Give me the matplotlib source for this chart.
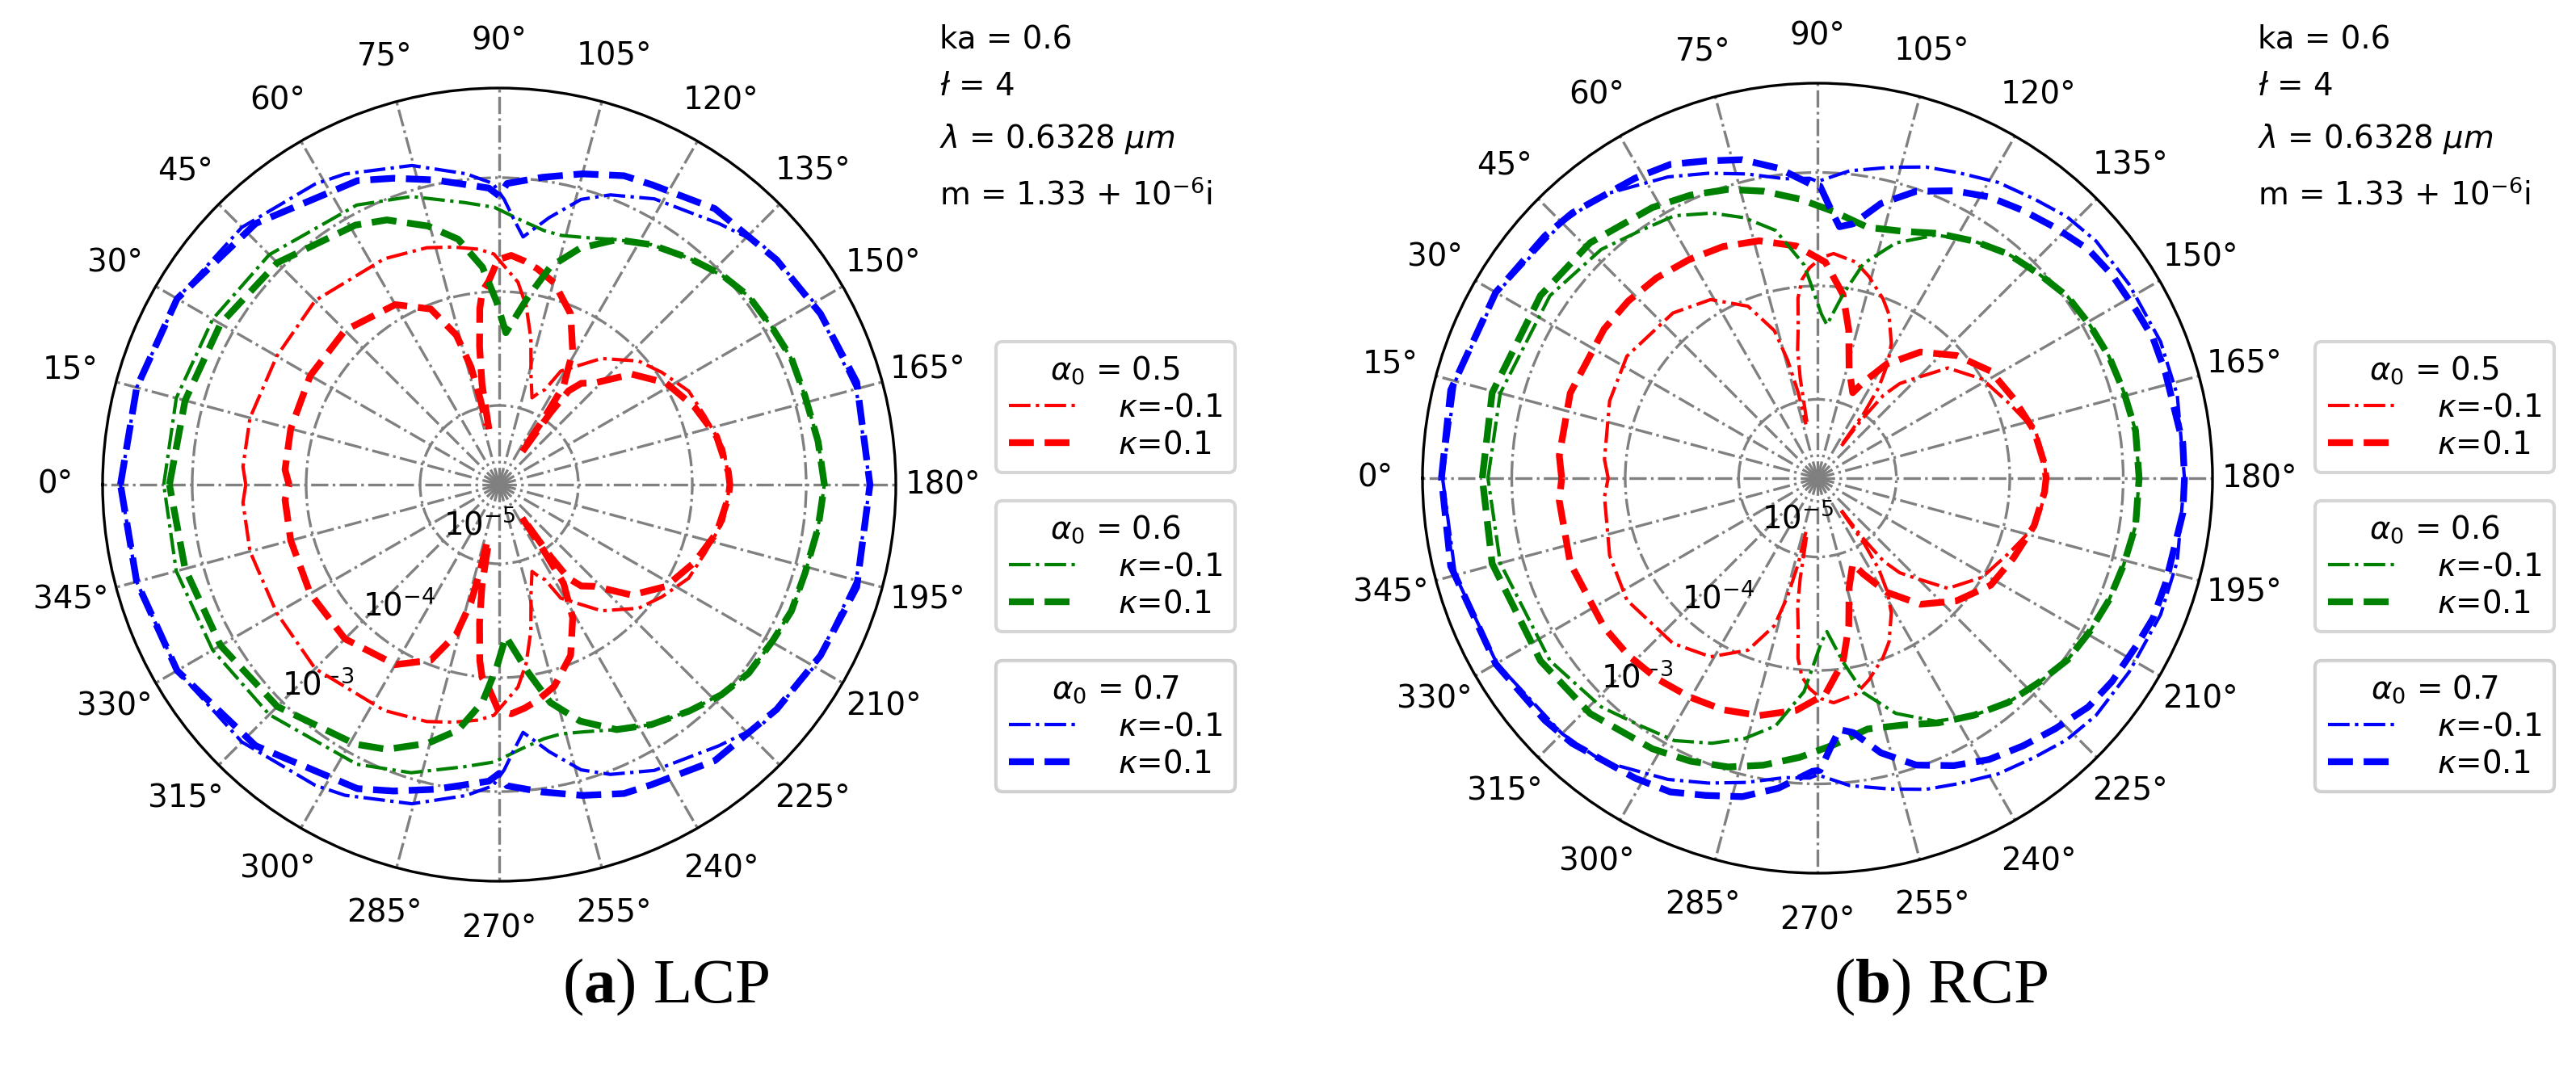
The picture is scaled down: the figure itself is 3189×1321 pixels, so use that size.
import numpy as np
import matplotlib
matplotlib.use('Agg')
import matplotlib.pyplot as plt
from matplotlib.lines import Line2D

plt.rcParams['mathtext.rm'] = 'Liberation Serif'
plt.rcParams['mathtext.bf'] = 'Liberation Serif:bold'

FS = 9.3
nan = np.nan

# radial limits, log10 of the intensity
LOG_RMIN, LOG_RMAX = -5.695, -2.213

# ---------------------------------------------------------------------------
# (a) LCP : scattering angle (deg, upper half 0..180) and log10(intensity)
# ---------------------------------------------------------------------------
lcp_05m_th = [0, 4, 15, 30, 45, 63, 73, 79, 85, 88.7, 95.3, 98.6, 102.2, 106.3, 110.7,
              113.6, 115.7, 118.5, 129, 138.4, 145.4, 153.7, 161.7, 171, 180]
lcp_05m_lg = [-3.47, -3.44, -3.43, -3.44, -3.41, -3.47, -3.52, -3.57, -3.62, -3.67, -3.91,
              -4.11, -4.38, -4.70, -4.88, -4.81, -4.77, -4.56, -4.27, -4.06, -3.96, -3.84,
              -3.79, -3.70, -3.67]

lcp_05p_th = [0, 4, 15, 30, 45, 60, 68.7, 74, 76.5, 77.5, 78, 78.8,
              79.5, 80.3, 81.9, 83.7, 85, 87, 89.7, 93, 96.5, 100, 105.3, 112.7, 118.9, 123.1,
              124, 124.5, 124.8,
              125, 125.5, 126.5, 129, 133.2, 140.2, 148.6, 158.3, 167.5, 176.8, 180]
lcp_05p_lg = [-3.85, -3.81, -3.80, -3.78, -3.78, -3.87, -4.04, -4.33, -4.63, -4.92, -5.16, nan,
              -5.20, -4.80, -4.47, -4.14, -3.99, -3.91, -3.72, -3.68, -3.72, -3.77, -3.86, -4.07,
              -4.36, -4.66, -4.99, -5.34, nan,
              -5.34, -4.92, -4.67, -4.55, -4.47, -4.18, -3.98, -3.85, -3.74, -3.68, -3.67]

lcp_06m_th = [0, 15, 30, 45, 63, 73, 83, 89, 95, 100, 104, 109, 115.6, 122.4, 130, 137, 143,
              150, 157, 164, 172, 180]
lcp_06m_lg = [-2.75, -2.76, -2.79, -2.84, -2.94, -3.05, -3.20, -3.26, -3.37, -3.43, -3.44,
              -3.40, -3.31, -3.20, -3.10, -3.01, -2.95, -2.93, -2.90, -2.90, -2.87, -2.84]

lcp_06p_th = [0, 15, 30, 45, 61, 67, 74.6, 80.5, 85.6, 89.2, 92.5, 98.7, 103.2, 108.9, 115.6,
              122.4, 130, 136.6, 142.9, 150.3, 156.6, 163.8, 172.3, 180]
lcp_06p_lg = [-2.80, -2.84, -2.87, -2.94, -3.09, -3.17, -3.34, -3.51, -3.78, -4.09, -4.36,
              -4.03, -3.73, -3.50, -3.31, -3.20, -3.10, -3.01, -2.95, -2.93, -2.90, -2.90,
              -2.87, -2.84]

lcp_07m_th = [0, 15, 30, 45, 58.5, 63.6, 74.7, 83.9, 88.8, 91, 93, 95.5, 100.6, 106, 111,
              118.5, 130, 137.6, 150, 165, 180]
lcp_07m_lg = [-2.37, -2.40, -2.43, -2.50, -2.60, -2.65, -2.79, -2.95, -3.05, -3.19, -3.35,
              -3.51, -3.31, -3.09, -2.97, -2.84, -2.70, -2.57, -2.50, -2.45, -2.44]

lcp_07p_th = [0, 15, 30, 47, 65, 71, 78, 85, 88, 90, 91.5, 98, 105, 112, 117, 128, 141, 152,
              164, 180]
lcp_07p_lg = [-2.37, -2.40, -2.43, -2.56, -2.75, -2.85, -2.96, -3.06, -3.09, -3.16, -3.05,
              -2.97, -2.87, -2.77, -2.74, -2.62, -2.56, -2.50, -2.43, -2.44]

# ---------------------------------------------------------------------------
# (b) RCP
# ---------------------------------------------------------------------------
rcp_05m_th = [0, 5, 20.4, 32.6, 48.8, 59.1, 68, 73.7, 75.8, 77.3, 77.8, 78.5,
              79.3, 80.2, 81.2, 82.8, 83.8, 85.5, 87.8, 91, 94.1, 100, 104.3, 110, 113.6,
              118.7, 121.5, 124, 125.5, 126, 126.3,
              126.6, 127, 128.5, 131, 133.7, 139.8, 149, 158.8, 167.7, 175, 180]
rcp_05m_lg = [-3.85, -3.81, -3.74, -3.70, -3.76, -3.86, -4.06, -4.34, -4.62, -4.92, -5.21, nan,
              -5.19, -4.80, -4.55, -4.34, -4.10, -3.94, -3.84, -3.75, -3.71, -3.76, -3.86,
              -4.01, -4.12, -4.34, -4.51, -4.73, -4.98, -5.34, nan,
              -5.34, -5.05, -4.76, -4.59, -4.49, -4.19, -4.00, -3.88, -3.73, -3.69, -3.68]

rcp_05p_th = [0, 5, 19, 34.9, 43.1, 51.2, 59.6, 67.8, 76.2, 84.8, 92.1, 97.9, 101.9, 106.1,
              112.4, 115.5, 121.2, 129.2, 138.6, 148.3, 157.8, 167.6, 176.5, 180]
rcp_05p_lg = [-3.44, -3.41, -3.39, -3.40, -3.41, -3.43, -3.46, -3.49, -3.54, -3.64, -3.79,
              -4.06, -4.36, -4.69, -4.88, -4.76, -4.52, -4.26, -4.06, -3.90, -3.83, -3.74,
              -3.69, -3.68]

rcp_06m_th = [0, 15, 34.3, 46.6, 54.2, 61.4, 68.3, 74.3, 80.4, 86.4, 91.4, 93.5, 97.9, 102.1,
              108.4, 116, 123.5, 130.4, 137.3, 144, 150.7, 157.3, 164.2, 171.5, 180]
rcp_06m_lg = [-2.79, -2.80, -2.84, -2.92, -3.01, -3.06, -3.18, -3.31, -3.48, -3.81, -4.25,
              -4.34, -4.06, -3.76, -3.51, -3.31, -3.19, -3.10, -3.04, -2.97, -2.94, -2.91,
              -2.89, -2.86, -2.86]

rcp_06p_th = [0, 14.7, 33.4, 46, 58.6, 65.8, 72.8, 79.3, 86.4, 93.5, 101.3, 109.3, 116.2,
              123.5, 130.4, 137.3, 144, 150.7, 157.3, 164.2, 171.5, 180]
rcp_06p_lg = [-2.74, -2.73, -2.77, -2.81, -2.90, -2.96, -3.03, -3.12, -3.23, -3.34, -3.44,
              -3.39, -3.29, -3.19, -3.10, -3.04, -2.97, -2.94, -2.91, -2.89, -2.86, -2.86]

rcp_07m_th = [0, 15, 30, 45, 52.8, 63.6, 70.3, 76.8, 83.8, 88.5, 90, 96, 103.2, 109.2, 114.7,
              121.4, 127.7, 133.6, 139.6, 148.1, 158.3, 167, 180]
rcp_07m_lg = [-2.39, -2.39, -2.43, -2.51, -2.56, -2.73, -2.84, -2.94, -3.04, -3.05, -3.08,
              -2.97, -2.88, -2.79, -2.73, -2.64, -2.58, -2.51, -2.47, -2.46, -2.44, -2.44, -2.46]

rcp_07p_th = [0, 13.5, 30, 41.6, 47.2, 58.7, 64.9, 70.6, 76.7, 82.8, 89, 90.5, 93.2, 95, 98,
              103, 109, 115.4, 121.4, 127.5, 133.5, 139.8, 145.4, 152.2, 157.4, 163.1, 174.5, 180]
rcp_07p_lg = [-2.38, -2.37, -2.42, -2.48, -2.51, -2.60, -2.64, -2.73, -2.81, -2.94, -3.11,
              -3.12, -3.35, -3.47, -3.43, -3.21, -3.02, -2.89, -2.79, -2.72, -2.65, -2.57,
              -2.54, -2.52, -2.49, -2.49, -2.46, -2.46]

alpha_labels = ['0.5', '0.6', '0.7']
kappa_labels = ['-0.1', '0.1']
colors = ['r', 'g', 'b']

info_lines = ['ka = 0.6', r'$ł$ = 4', r'$\lambda$ = 0.6328 $\mu m$', r'm = 1.33 + 10$^{-6}$i']

panels = [
    dict(caption=r'($\mathbf{a}$) LCP',
         curves=[(lcp_05m_th, lcp_05m_lg), (lcp_05p_th, lcp_05p_lg),
                 (lcp_06m_th, lcp_06m_lg), (lcp_06p_th, lcp_06p_lg),
                 (lcp_07m_th, lcp_07m_lg), (lcp_07p_th, lcp_07p_lg)],
         rect=[127 / 3189, 230 / 1321, 982 / 3189, 982 / 1321],
         legx=1233, txtx=1163, capx=824),
    dict(caption=r'($\mathbf{b}$) RCP',
         curves=[(rcp_05m_th, rcp_05m_lg), (rcp_05p_th, rcp_05p_lg),
                 (rcp_06m_th, rcp_06m_lg), (rcp_06p_th, rcp_06p_lg),
                 (rcp_07m_th, rcp_07m_lg), (rcp_07p_th, rcp_07p_lg)],
         rect=[1761 / 3189, 240 / 1321, 978 / 3189, 978 / 1321],
         legx=2866, txtx=2795, capx=2402),
]


def full_circle(th, lg):
    # the patterns are mirror symmetric about the 0-180 axis
    th = np.asarray(th, dtype=float)
    val = 10.0 ** np.asarray(lg, dtype=float)
    th_all = np.concatenate([th, 360.0 - th[::-1][1:]])
    val_all = np.concatenate([val, val[::-1][1:]])
    return np.deg2rad(th_all), val_all


W, H = 3189, 1321
fig = plt.figure(figsize=(W / 300, H / 300), dpi=300)

for p in panels:
    ax = fig.add_axes(p['rect'], projection='polar')
    ax.set_theta_zero_location('W')
    ax.set_theta_direction(-1)
    ax.set_rscale('log')

    handles = []
    for i, (th, lg) in enumerate(p['curves']):
        t, v = full_circle(th, lg)
        c = colors[i // 2]
        if i % 2 == 0:
            ls, lw = '-.', 1.0
        else:
            ls, lw = '--', 2.0
        ax.plot(t, v, color=c, linestyle=ls, linewidth=lw)
        handles.append(Line2D([], [], color=c, linestyle=ls, linewidth=lw))

    ax.set_ylim(10 ** LOG_RMIN, 10 ** LOG_RMAX)
    ax.set_thetagrids(np.arange(0, 360, 15), fontsize=FS)
    ax.set_rticks([1e-5, 1e-4, 1e-3])
    ax.set_rlabel_position(315)
    ax.tick_params(axis='y', labelsize=FS)
    ax.grid(True, color='gray', linestyle='-.', linewidth=0.8)

    # one legend box per alpha_0
    tops = [423, 620, 818]
    for k in range(3):
        leg = ax.legend(handles=handles[2 * k:2 * k + 2],
                        labels=[r'$\kappa$=' + s for s in kappa_labels],
                        title=r'$\alpha_0$ = ' + alpha_labels[k],
                        loc='upper left', fontsize=FS, title_fontsize=FS,
                        labelspacing=0.2, handlelength=2.2, handletextpad=1.3,
                        bbox_to_anchor=(p['legx'] / W, 1 - tops[k] / H),
                        bbox_transform=fig.transFigure, borderaxespad=0)
        ax.add_artist(leg)

    for y, s in zip([59, 118, 183, 253], info_lines):
        fig.text(p['txtx'] / W, 1 - y / H, s, fontsize=FS, va='baseline', ha='left')

    fig.text(p['capx'] / W, 1 - 1222 / H, p['caption'], fontsize=19,
             family='Liberation Serif', math_fontfamily='custom',
             ha='center', va='center')

fig.savefig('out.png', dpi=300)
